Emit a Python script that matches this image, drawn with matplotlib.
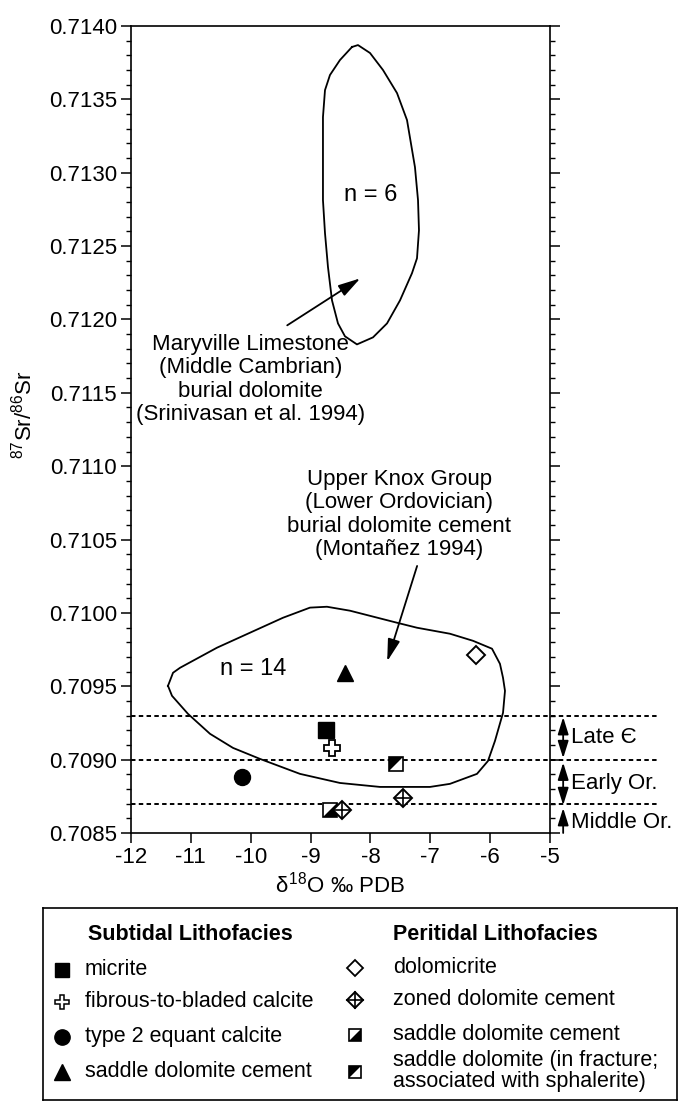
import numpy as np
import matplotlib
matplotlib.use("Agg")
from matplotlib import pyplot as plt
from matplotlib.ticker import MultipleLocator, FormatStrFormatter

plt.rcParams["font.family"] = ["Liberation Sans", "DejaVu Sans"]
plt.rcParams["mathtext.fontset"] = "custom"
plt.rcParams["mathtext.rm"] = "Liberation Sans"
plt.rcParams["mathtext.it"] = "Liberation Sans"
plt.rcParams["axes.unicode_minus"] = False

# measured outlines (delta18O, 87Sr/86Sr)
maryville_x = [-8.308, -8.208, -8.007, -7.790, -7.556, -7.389, -7.256, -7.205, -7.189,
               -7.222, -7.306, -7.506, -7.723, -7.957, -8.225, -8.425, -8.542, -8.642,
               -8.709, -8.759, -8.793, -8.793, -8.793, -8.759, -8.676, -8.509, -8.308]
maryville_y = [0.713857, 0.713870, 0.713816, 0.713700, 0.713543, 0.713359, 0.713038,
               0.712813, 0.712608, 0.712417, 0.712315, 0.712130, 0.711973, 0.711878,
               0.711830, 0.711885, 0.711973, 0.712130, 0.712356, 0.712588, 0.712813,
               0.713086, 0.713379, 0.713563, 0.713666, 0.713768, 0.713857]

knox_x = [-11.382, -11.298, -11.181, -10.563, -10.012, -9.461, -9.010, -8.726, -8.341,
          -7.556, -7.222, -6.671, -6.287, -5.969, -5.836, -5.785, -5.752, -5.785, -5.919,
          -6.036, -6.220, -6.671, -7.005, -7.840, -8.509, -9.177, -9.845, -10.296,
          -10.680, -11.048, -11.315, -11.382]
knox_y = [0.709503, 0.709592, 0.709626, 0.709763, 0.709865, 0.709967, 0.710036, 0.710042,
          0.710015, 0.709933, 0.709899, 0.709858, 0.709810, 0.709756, 0.709653, 0.709558,
          0.709469, 0.709319, 0.709128, 0.708991, 0.708903, 0.708835, 0.708814, 0.708814,
          0.708841, 0.708903, 0.709005, 0.709080, 0.709176, 0.709312, 0.709435, 0.709503]

# subtidal lithofacies
micrite_x, micrite_y = [-8.74], [0.70920]
fibrous_x, fibrous_y = [-8.64], [0.70908]
equant_x, equant_y = [-10.15], [0.70888]
saddle_sub_x, saddle_sub_y = [-8.43], [0.70959]

# peritidal lithofacies
dolomicrite_x, dolomicrite_y = [-6.23], [0.70971]
zoned_x, zoned_y = [-8.47, -7.45], [0.70866, 0.70874]
saddle_cem_x, saddle_cem_y = [-8.68], [0.70866]
fracture_x, fracture_y = [-7.57], [0.70897]

# age boundaries
boundaries = [0.7093, 0.7090, 0.7087]
age_labels = ["Late \u0404", "Early Or.", "Middle Or."]

TRI_LR = [(-1, -1), (1, -1), (1, 1)]
TRI_UL = [(-1, -1), (-1, 1), (1, 1)]


def half_square(ax, x, y, tri, ms, **kw):
    ax.plot(x, y, "s", mfc="white", mec="black", mew=1.2, ms=ms, ls="none", **kw)
    ax.plot(x, y, marker=tri, color="black", mew=0, ms=ms, ls="none", **kw)


def diamond_cross(ax, x, y, ms, **kw):
    ax.plot(x, y, "D", mfc="white", mec="black", mew=1.4, ms=ms, ls="none", **kw)
    ax.plot(x, y, "+", color="black", mew=1.2, ms=ms * 1.5, ls="none", **kw)


fig = plt.figure(figsize=(6.79, 11.02), dpi=100)
ax = fig.add_axes([131 / 679, 1 - 833 / 1102, 419 / 679, 807 / 1102])

ax.set_xlim(-12, -5)
ax.set_ylim(0.7085, 0.7140)
ax.xaxis.set_major_locator(MultipleLocator(1))
ax.yaxis.set_major_locator(MultipleLocator(0.0005))
ax.yaxis.set_minor_locator(MultipleLocator(0.0001))
ax.yaxis.set_major_formatter(FormatStrFormatter("%.4f"))
ax.tick_params(axis="both", which="major", direction="out", length=7, width=1.1,
               labelsize=16, pad=3)
ax.tick_params(axis="y", which="minor", direction="out", length=3.5, width=1)
ax.tick_params(axis="y", which="both", right=True, labelright=False)
for s in ax.spines.values():
    s.set_linewidth(1.2)

ax.plot(maryville_x, maryville_y, color="black", lw=1.3, solid_joinstyle="round")
ax.plot(knox_x, knox_y, color="black", lw=1.3, solid_joinstyle="round")

for b in boundaries:
    ax.plot([-12, -3.2], [b, b], color="black", lw=1.4, ls=(0, (2.3, 1.7)),
            clip_on=False)

ax.text(-8.0, 0.71285, "n = 6", fontsize=17, ha="center", va="center")
ax.text(-9.96, 0.70962, "n = 14", fontsize=17, ha="center", va="center")

ax.text(-10.0, 0.71159,
        "Maryville Limestone\n(Middle Cambrian)\nburial dolomite\n(Srinivasan et al. 1994)",
        fontsize=16, ha="center", va="center", linespacing=1.15)
ax.annotate("", xy=(-8.17, 0.71228), xytext=(-9.39, 0.71196),
            arrowprops=dict(arrowstyle="-|>,head_length=0.9,head_width=0.25",
                            color="black", lw=1.3, mutation_scale=15,
                            shrinkA=0, shrinkB=0))

ax.text(-7.52, 0.71067,
        "Upper Knox Group\n(Lower Ordovician)\nburial dolomite cement\n(Monta\u00f1ez 1994)",
        fontsize=16, ha="center", va="center", linespacing=1.15)
ax.annotate("", xy=(-7.72, 0.70967), xytext=(-7.22, 0.71032),
            arrowprops=dict(arrowstyle="-|>,head_length=0.9,head_width=0.25",
                            color="black", lw=1.3, mutation_scale=15,
                            shrinkA=0, shrinkB=0))

# markers
ax.plot(micrite_x, micrite_y, "s", color="black", ms=11.5)
ax.plot(fibrous_x, fibrous_y, "P", mfc="white", mec="black", mew=1.3, ms=11)
ax.plot(equant_x, equant_y, "o", color="black", ms=11.5)
ax.plot(saddle_sub_x, saddle_sub_y, "^", color="black", ms=12)
ax.plot(dolomicrite_x, dolomicrite_y, "D", mfc="white", mec="black", mew=1.4, ms=9)
half_square(ax, saddle_cem_x, saddle_cem_y, TRI_LR, 10.5)
diamond_cross(ax, zoned_x, zoned_y, 9)
half_square(ax, fracture_x, fracture_y, TRI_UL, 10.5)

# age brackets on the right
arrow_x = -4.78
spans = [(0.70929, 0.70901), (0.70898, 0.70869)]
for (top, bot) in spans:
    ax.annotate("", xy=(arrow_x, top), xytext=(arrow_x, bot),
                arrowprops=dict(arrowstyle="<|-|>,head_length=0.8,head_width=0.25",
                                color="black", lw=1.3, mutation_scale=13,
                                shrinkA=0, shrinkB=0), annotation_clip=False)
ax.annotate("", xy=(arrow_x, 0.70867), xytext=(arrow_x, 0.7085),
            arrowprops=dict(arrowstyle="-|>,head_length=0.8,head_width=0.25",
                            color="black", lw=1.3, mutation_scale=13,
                            shrinkA=0, shrinkB=0), annotation_clip=False)
for lab, yy in zip(age_labels, [0.70915, 0.70884, 0.70857]):
    ax.text(-4.65, yy, lab, fontsize=16, ha="left", va="center", clip_on=False)

ax.set_xlabel("$\\delta^{18}$O \u2030 PDB", fontsize=16, labelpad=3)
fig.text(24 / 679, 1 - 415 / 1102, r"$^{87}$Sr/$^{86}$Sr", rotation=90, fontsize=16,
         ha="center", va="center")

# legend box
lg = fig.add_axes([43 / 679, 0.002, 634 / 679, 1 - 908 / 1102 - 0.002])
lg.set_xlim(43, 677)
lg.set_ylim(1100, 908)
lg.set_xticks([])
lg.set_yticks([])
for s in lg.spines.values():
    s.set_linewidth(1.2)

lg.text(88, 935, "Subtidal Lithofacies", fontsize=15.5, fontweight="bold", va="center")
lg.text(393, 935, "Peritidal Lithofacies", fontsize=15.5, fontweight="bold", va="center")

left_rows = [970, 1002, 1037, 1072]
left_texts = ["micrite", "fibrous-to-bladed calcite", "type 2 equant calcite",
              "saddle dolomite cement"]
for yy, t in zip(left_rows, left_texts):
    lg.text(85, yy, t, fontsize=15.5, va="center")
lg.plot(62, left_rows[0], "s", color="black", ms=10.5)
lg.plot(62, left_rows[1], "P", mfc="white", mec="black", mew=1.1, ms=9.5)
lg.plot(62, left_rows[2], "o", color="black", ms=11)
lg.plot(62, left_rows[3], "^", color="black", ms=11)

right_rows = [968, 1000, 1035]
right_texts = ["dolomicrite", "zoned dolomite cement", "saddle dolomite cement"]
for yy, t in zip(right_rows, right_texts):
    lg.text(393, yy, t, fontsize=15.5, va="center")
lg.text(393, 1071, "saddle dolomite (in fracture;\nassociated with sphalerite)",
        fontsize=15.5, va="center", linespacing=1.0)
lg.plot(355, right_rows[0], "D", mfc="white", mec="black", mew=1.3, ms=8.5)
diamond_cross(lg, [355], [right_rows[1]], 8.5)
half_square(lg, [355], [right_rows[2]], TRI_LR, 9)
half_square(lg, [355], [1072], TRI_UL, 9)

fig.savefig("out.png", dpi=100)
